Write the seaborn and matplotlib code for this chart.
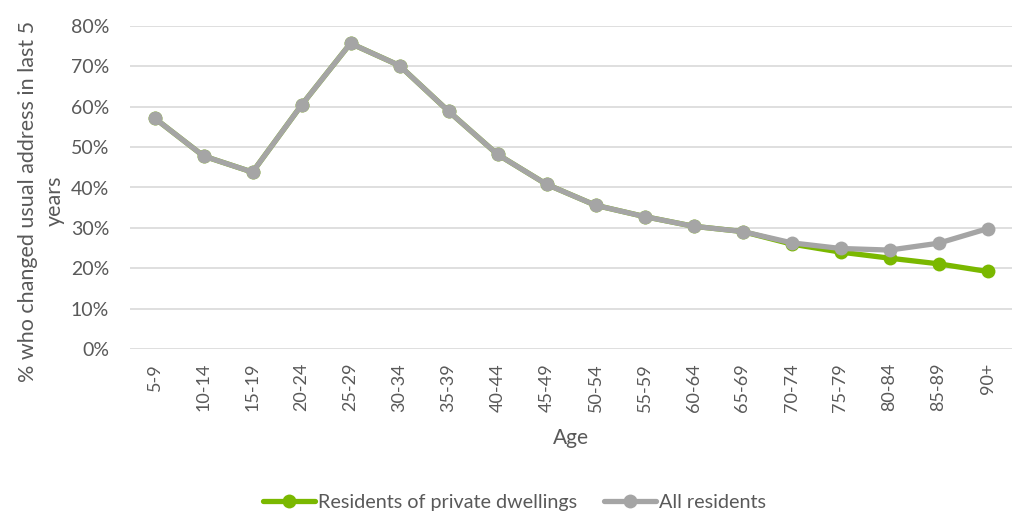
import matplotlib
matplotlib.use("Agg")
import matplotlib.pyplot as plt
import seaborn as sns
import pandas as pd
from matplotlib.ticker import PercentFormatter

ages = ["5-9", "10-14", "15-19", "20-24", "25-29", "30-34", "35-39", "40-44",
        "45-49", "50-54", "55-59", "60-64", "65-69", "70-74", "75-79", "80-84",
        "85-89", "90+"]
private_dwellings = [57.2, 47.8, 43.8, 60.4, 75.7, 70.2, 58.9, 48.2, 40.8,
                     35.6, 32.8, 30.4, 29.1, 26.0, 24.0, 22.5, 21.1, 19.2]
all_residents = [57.2, 47.8, 43.8, 60.4, 75.7, 70.2, 58.9, 48.2, 40.8,
                 35.6, 32.8, 30.4, 29.1, 26.3, 24.9, 24.5, 26.2, 29.8]

df = pd.DataFrame({
    "Age": ages * 2,
    "value": [v / 100 for v in private_dwellings + all_residents],
    "series": ["Residents of private dwellings"] * len(ages) + ["All residents"] * len(ages),
})

sns.set_theme(style="white")
plt.rcParams["font.family"] = ["Lato", "DejaVu Sans"]

GREEN = "#7AB800"
GREY = "#A5A5A5"
TEXT = "#595959"

fig = plt.figure(figsize=(10.19, 5.11), dpi=100)
ax = fig.add_axes([130 / 1019, 1 - 349 / 511, (1012 - 130) / 1019, (349 - 26) / 511])

sns.lineplot(data=df, x="Age", y="value", hue="series",
             palette={"Residents of private dwellings": GREEN, "All residents": GREY},
             hue_order=["Residents of private dwellings", "All residents"],
             marker="o", markersize=10, markeredgewidth=0, linewidth=3.8,
             sort=False, ax=ax, legend=True)

ax.set_ylim(0, 0.8)
ax.set_xlim(-0.5, len(ages) - 0.5)
ax.yaxis.set_major_formatter(PercentFormatter(1.0, decimals=0))
ax.set_yticks([i / 10 for i in range(9)])
ax.grid(axis="y", color="#D9D9D9", linewidth=1.2)
ax.set_axisbelow(True)
for s in ax.spines.values():
    s.set_visible(False)

ax.tick_params(axis="y", length=0, colors=TEXT, labelsize=14, pad=15)
ax.tick_params(axis="x", length=0, colors=TEXT, labelsize=13, pad=10)
plt.setp(ax.get_xticklabels(), rotation=90)

ax.set_xlabel("Age", fontsize=15, color=TEXT, labelpad=12)
ax.set_ylabel("% who changed usual address in last 5\nyears", fontsize=15.5,
              color=TEXT, linespacing=1.45)
ax.yaxis.set_label_coords(-0.074, 0.458)

handles, labels = ax.get_legend_handles_labels()
ax.legend_.remove()
fig.legend(handles, labels, loc="lower center", bbox_to_anchor=(0.505, -0.035),
           ncol=2, frameon=False, fontsize=14.2, labelcolor=TEXT,
           handlelength=2.6, handletextpad=0.15, columnspacing=1.4)

fig.savefig("out.png", dpi=100)
